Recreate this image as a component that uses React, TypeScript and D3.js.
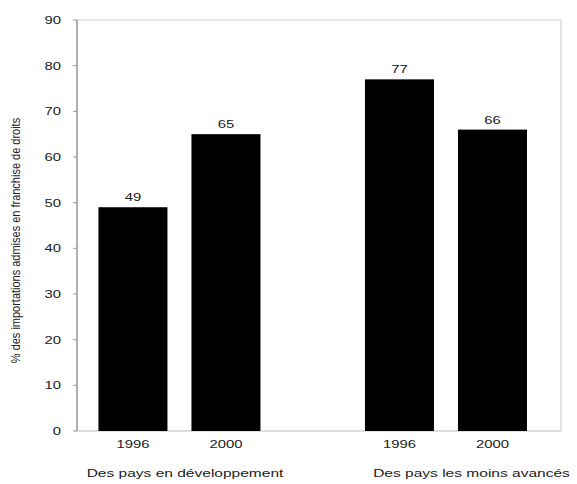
import React from "react";
import * as d3 from "d3";

const groups = ["Des pays en développement", "Des pays les moins avancés"];
const years = ["1996", "2000"];
const values = [
  [49, 65],
  [77, 66],
];
const yTicks = [0, 10, 20, 30, 40, 50, 60, 70, 80, 90];
const yTitle = "% des importations admises en franchise de droits";

const SX = 1.35;

function HText({ x, y, anchor = "middle", size = 11, children }: any) {
  return (
    <text
      transform={`translate(${x},${y}) scale(${SX},1)`}
      textAnchor={anchor}
      fontSize={size}
      fontFamily="'Liberation Sans', Arial, sans-serif"
      fill="#222"
    >
      {children}
    </text>
  );
}

export default function App() {
  const W = 577, H = 484;
  const left = 77, right = 561, top = 20, bottom = 431;
  const font = "'Liberation Sans', Arial, sans-serif";

  const y = d3.scaleLinear().domain([0, 90]).range([bottom, top]);
  const xOuter = d3.scaleBand<string>().domain(groups).range([left, right])
    .paddingInner(0.302).paddingOuter(0.059).align(0.3);
  const xInner = d3.scaleBand<string>().domain(years).range([0, xOuter.bandwidth()])
    .paddingInner(0.258).paddingOuter(0.129);
  const groupLabelX = [185, 471.5];

  return (
    <svg width={W} height={H} style={{ position: "absolute", left: 0, top: 0, background: "#fff" }}>
      <line x1={left} x2={right} y1={top} y2={top} stroke="#cfcfcf" strokeWidth={1.2} />
      <line x1={right} x2={right} y1={top} y2={bottom} stroke="#cfcfcf" strokeWidth={1.2} />
      <line x1={left} x2={right} y1={bottom} y2={bottom} stroke="#bdbdbd" strokeWidth={1.2} />
      <line x1={left} x2={left} y1={top} y2={bottom} stroke="#b0b0b0" strokeWidth={2} />
      {yTicks.map((t) => (
        <g key={t}>
          <line x1={left - 4} x2={left} y1={y(t)} y2={y(t)} stroke="#999" strokeWidth={1} />
          <HText x={61} y={y(t) + 4} anchor="end">{t}</HText>
        </g>
      ))}
      <text transform={`translate(20,${(top + bottom) / 2 + 15}) rotate(-90) scale(1,1.2)`} textAnchor="middle"
        fontSize={11} fontFamily={font} fill="#222">{yTitle}</text>
      {groups.map((g, gi) => {
        const gx = xOuter(g)!;
        return (
          <g key={g}>
            {years.map((yr, yi) => {
              const bx = gx + xInner(yr)!;
              const v = values[gi][yi];
              const cx = bx + xInner.bandwidth() / 2;
              return (
                <g key={yr}>
                  <rect x={bx} y={y(v)} width={xInner.bandwidth()} height={bottom - y(v)} fill="#000" />
                  <HText x={cx} y={y(v) - 6}>{v}</HText>
                  <HText x={cx} y={448}>{yr}</HText>
                </g>
              );
            })}
            <HText x={groupLabelX[gi]} y={477} size={11.5}>{g}</HText>
          </g>
        );
      })}
    </svg>
  );
}
